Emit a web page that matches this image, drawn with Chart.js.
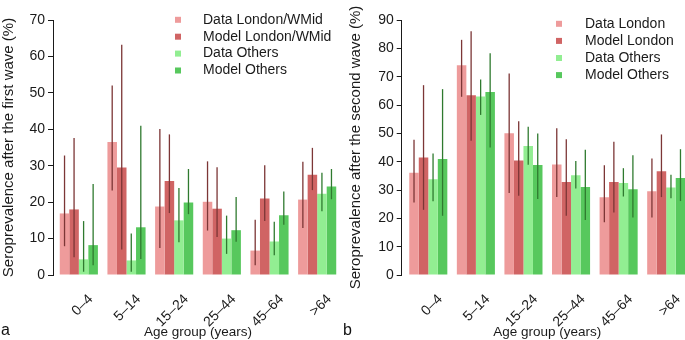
<!DOCTYPE html>
<html>
<head>
<meta charset="utf-8">
<script src="https://cdn.jsdelivr.net/npm/chart.js@4/dist/chart.umd.min.js"></script>
<style>
  html, body { margin: 0; padding: 0; background: #fff; width: 685px; height: 340px; overflow: hidden; }
  .panel { position: absolute; top: 0; height: 340px; }
  #pa { left: 0; width: 341px; }
  #pb { left: 340px; width: 350px; }
  .tag { position: absolute; top: 321px; font: 16px "Liberation Sans", Arial, sans-serif; color: #111; line-height: 18px; }
</style>
</head>
<body>
<div class="panel" id="pa"><canvas id="ca"></canvas></div>
<div class="panel" id="pb"><canvas id="cb"></canvas></div>
<div class="tag" style="left:1px">a</div>
<div class="tag" style="left:343px">b</div>
<script>
// age groups (x axis)
const ageGroups = ['0–4', '5–14', '15–24', '25–44', '45–64', '>64'];

// panel a: after the first wave (value, lower, upper)
const dataLondon1   = [16.9, 36.5, 18.8, 20.1, 6.7, 20.7];
const dataLondon1Lo = [7.9, 23.2, 7.4, 12.2, 2.7, 12.9];
const dataLondon1Hi = [32.8, 52.0, 40.1, 31.2, 15.2, 31.1];
const modelLondon1   = [18.0, 29.5, 25.8, 18.2, 21.0, 27.5];
const modelLondon1Lo = [4.9, 7.0, 17.0, 10.4, 14.8, 23.3];
const modelLondon1Hi = [37.6, 63.2, 38.6, 29.6, 30.1, 34.9];
const dataOthers1   = [4.3, 4.0, 15.0, 10.0, 9.2, 22.3];
const dataOthers1Lo = [0.9, 0.9, 9.0, 5.8, 5.4, 17.5];
const dataOthers1Hi = [14.8, 11.4, 23.9, 16.3, 14.6, 28.1];
const modelOthers1   = [8.2, 13.1, 19.9, 12.3, 16.4, 24.3];
const modelOthers1Lo = [2.7, 4.4, 16.7, 9.1, 13.8, 20.8];
const modelOthers1Hi = [25.0, 41.0, 29.1, 21.4, 22.9, 29.1];

// panel b: after the second wave
const dataLondon2   = [36.1, 74.0, 50.0, 39.0, 27.4, 29.6];
const dataLondon2Lo = [25.6, 62.9, 28.9, 27.5, 18.6, 20.3];
const dataLondon2Hi = [47.7, 83.0, 71.1, 51.8, 38.7, 41.1];
const modelLondon2   = [41.5, 63.4, 40.4, 32.8, 32.8, 36.6];
const modelLondon2Lo = [23.0, 47.4, 28.0, 20.9, 22.1, 27.5];
const modelLondon2Hi = [67.0, 86.0, 54.3, 47.9, 47.0, 49.6];
const dataOthers2   = [33.8, 63.0, 45.5, 35.2, 32.5, 30.9];
const dataOthers2Lo = [26.0, 56.5, 38.9, 30.5, 27.7, 27.1];
const dataOthers2Hi = [42.9, 69.0, 52.3, 40.2, 37.7, 35.4];
const modelOthers2   = [40.9, 64.6, 38.8, 31.1, 30.3, 34.2];
const modelOthers2Lo = [20.9, 45.0, 26.8, 19.4, 20.3, 26.1];
const modelOthers2Hi = [65.6, 78.3, 49.9, 44.2, 42.3, 44.4];

const FONT = '"Liberation Sans", Arial, sans-serif';
const C = {
  dataLondon: '#ee9b9b', modelLondon: '#d06464',
  dataOthers: '#92ee92', modelOthers: '#57c85d',
  errRed: '#7c3636', errGreen: '#2f7a2f', ink: '#1a1a1a',
};

// vertical error bars from lo/hi arrays, drawn on the bar centres
const errorBars = {
  id: 'errorBars',
  afterDatasetsDraw(chart) {
    const { ctx } = chart, y = chart.scales.y;
    ctx.save();
    ctx.lineWidth = 1.3;
    chart.data.datasets.forEach((ds, i) => {
      ctx.strokeStyle = ds.errColor;
      chart.getDatasetMeta(i).data.forEach((bar, j) => {
        ctx.beginPath();
        ctx.moveTo(bar.x, y.getPixelForValue(ds.lo[j]));
        ctx.lineTo(bar.x, y.getPixelForValue(ds.hi[j]));
        ctx.stroke();
      });
    });
    ctx.restore();
  },
};

// legend inside the plot (small squares + labels)
const boxLegend = {
  id: 'boxLegend',
  afterDraw(chart, args, o) {
    const { ctx } = chart;
    ctx.save();
    ctx.font = '14px ' + FONT;
    ctx.textBaseline = 'middle';
    chart.data.datasets.forEach((ds, i) => {
      const y = o.y + i * o.step;
      ctx.fillStyle = ds.backgroundColor;
      ctx.fillRect(o.x - 3, y - 3, 6, 6);
      ctx.fillStyle = C.ink;
      ctx.fillText(ds.label, o.textX, y);
    });
    ctx.restore();
  },
};

// R-style: y axis line sits a little left of the first bar group
const axisGap = {
  id: 'axisGap',
  afterLayout(chart, args, o) {
    const x = chart.scales.x;
    x.left = chart.chartArea.left + o.gap;
    x.width = x.right - x.left;
    x.configure();
  },
};

function series(label, values, lo, hi, color, errColor) {
  return { label, data: values, lo, hi, errColor, backgroundColor: color, borderWidth: 0,
           categoryPercentage: 0.8, barPercentage: 1.0 };
}

function makeChart(id, o) {
  return new Chart(document.getElementById(id), {
    type: 'bar',
    data: { labels: ageGroups, datasets: o.datasets },
    plugins: [errorBars, boxLegend, axisGap],
    options: {
      responsive: true, maintainAspectRatio: false, animation: false,
      layout: { padding: { top: 20, left: o.padLeft, right: 0, bottom: 0 } },
      plugins: {
        legend: { display: false }, tooltip: { enabled: false },
        boxLegend: o.legend, axisGap: { gap: o.gap },
      },
      scales: {
        x: {
          grid: { display: false }, border: { display: false },
          afterFit: s => { s.height = 65; },
          ticks: { autoSkip: false, minRotation: 45, maxRotation: 45, padding: 8, labelOffset: 12,
                   color: C.ink, font: { family: FONT, size: 14 } },
          title: { display: true, text: 'Age group (years)', color: C.ink, padding: 0,
                   font: { family: FONT, size: 13.5 } },
        },
        y: {
          min: 0, max: o.yMax,
          afterFit: s => { s.width = o.yWidth; },
          grid: { drawOnChartArea: false, tickLength: 5, color: C.ink, tickWidth: 1 },
          border: { display: true, color: C.ink, width: 1 },
          ticks: { stepSize: 10, padding: 3, color: C.ink, font: { family: FONT, size: 14 } },
          title: { display: true, text: o.yTitle, color: C.ink, padding: 0,
                   font: { family: FONT, size: 15 } },
        },
      },
    },
  });
}

makeChart('ca', {
  yMax: 70, yWidth: 53, padLeft: 0, gap: 2,
  yTitle: 'Seroprevalence after the first wave (%)',
  legend: { x: 178, textX: 203, y: 19.8, step: 16.9 },
  datasets: [
    series('Data London/WMid', dataLondon1, dataLondon1Lo, dataLondon1Hi, C.dataLondon, C.errRed),
    series('Model London/WMid', modelLondon1, modelLondon1Lo, modelLondon1Hi, C.modelLondon, C.errRed),
    series('Data Others', dataOthers1, dataOthers1Lo, dataOthers1Hi, C.dataOthers, C.errGreen),
    series('Model Others', modelOthers1, modelOthers1Lo, modelOthers1Hi, C.modelOthers, C.errGreen),
  ],
});

makeChart('cb', {
  yMax: 90, yWidth: 54.7, padLeft: 7, gap: 2.8,
  yTitle: 'Seroprevalence after the second wave (%)',
  legend: { x: 219, textX: 245, y: 23.8, step: 17.1 },
  datasets: [
    series('Data London', dataLondon2, dataLondon2Lo, dataLondon2Hi, C.dataLondon, C.errRed),
    series('Model London', modelLondon2, modelLondon2Lo, modelLondon2Hi, C.modelLondon, C.errRed),
    series('Data Others', dataOthers2, dataOthers2Lo, dataOthers2Hi, C.dataOthers, C.errGreen),
    series('Model Others', modelOthers2, modelOthers2Lo, modelOthers2Hi, C.modelOthers, C.errGreen),
  ],
});
</script>
</body>
</html>
